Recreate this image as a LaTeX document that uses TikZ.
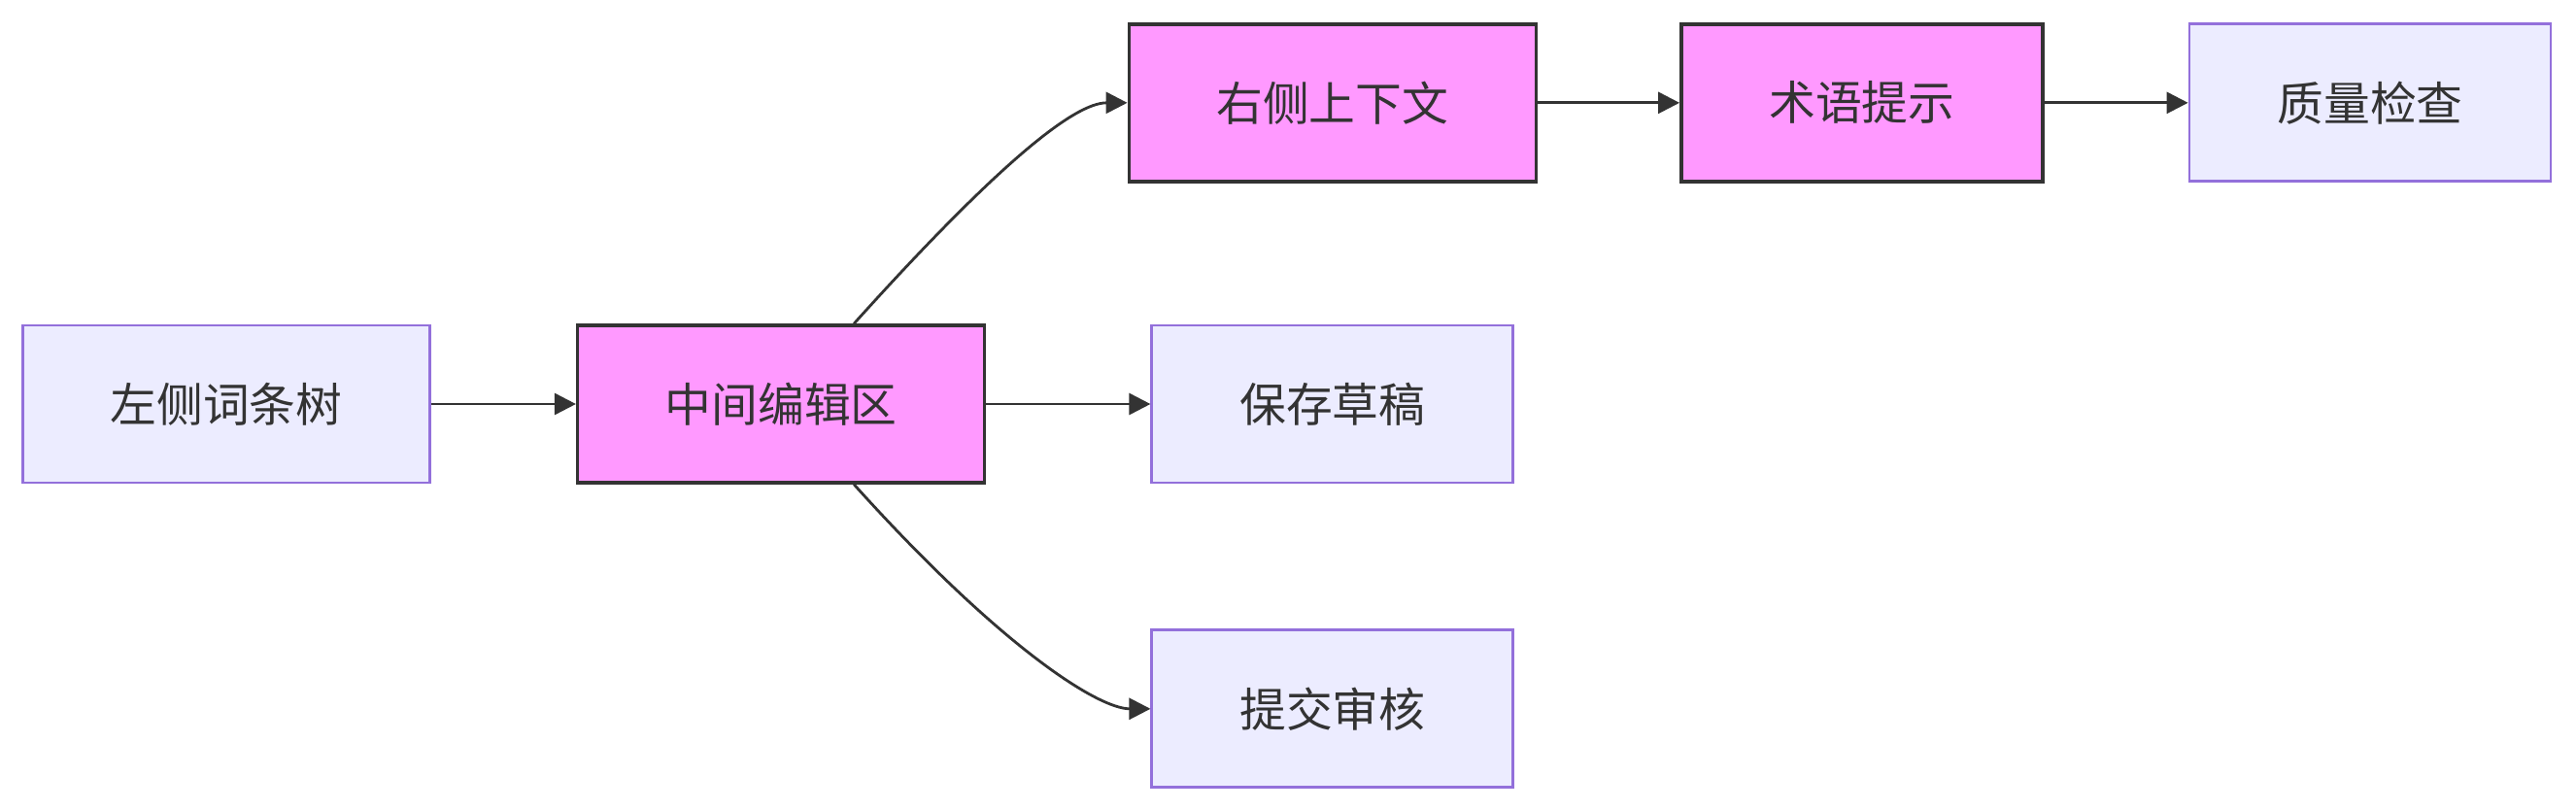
\documentclass[tikz,border=0pt]{standalone}
\usepackage{fontspec}
\setmainfont{Noto Sans CJK SC}
\usepackage{tikz}
\usetikzlibrary{arrows.meta, positioning, calc}

\definecolor{hotfill}{HTML}{FF99FF}
\definecolor{hotline}{HTML}{333333}
\definecolor{plainfill}{HTML}{ECECFF}
\definecolor{plainline}{HTML}{9370DB}

\tikzset{
	panel/.style={rectangle, minimum height=1.62cm, minimum width=4.19cm, text=hotline, font=\fontsize{13.6pt}{16pt}\selectfont},
	hot/.style={panel, fill=hotfill, draw=hotline, line width=1pt},
	plain/.style={panel, fill=plainfill, draw=plainline, line width=0.8pt},
	edge/.style={-{Triangle[length=0.22cm, width=0.22cm]}, draw=hotline, line width=0.8pt}
}

\begin{document}
\begin{tikzpicture}
			\useasboundingbox (0,0) rectangle (26.52,-8.34);
			
			\node[plain] (tree) at (2.33,-4.16) {左侧词条树};
			
			\node[hot, right=1.49cm of tree] (editor) {中间编辑区};
			
			\node[plain, minimum width=3.72cm, right=1.69cm of editor] (draft) {保存草稿};
			
			\node[hot, above=1.45cm of draft] (context) {右侧上下文};
			
			\node[plain, minimum width=3.72cm, below=1.49cm of draft] (review) {提交审核};
			
			\node[hot, minimum width=3.72cm, right=1.46cm of context] (terms) {术语提示};
			
			\node[plain, minimum width=3.72cm, right=1.48cm of terms] (check) {质量检查};
			
			\draw[edge] (tree) -- (editor);
			\draw[edge] (editor) -- (draft);
			\draw[edge] ([xshift=0.75cm]editor.north) .. controls +(48:2.25) and +(-0.54,0) .. (context.west);
			\draw[edge] ([xshift=0.75cm]editor.south) .. controls +(-48:2.25) and +(-0.54,0) .. (review.west);
			\draw[edge] (context) -- (terms);
			\draw[edge] (terms) -- (check);
		\end{tikzpicture}
\end{document}
